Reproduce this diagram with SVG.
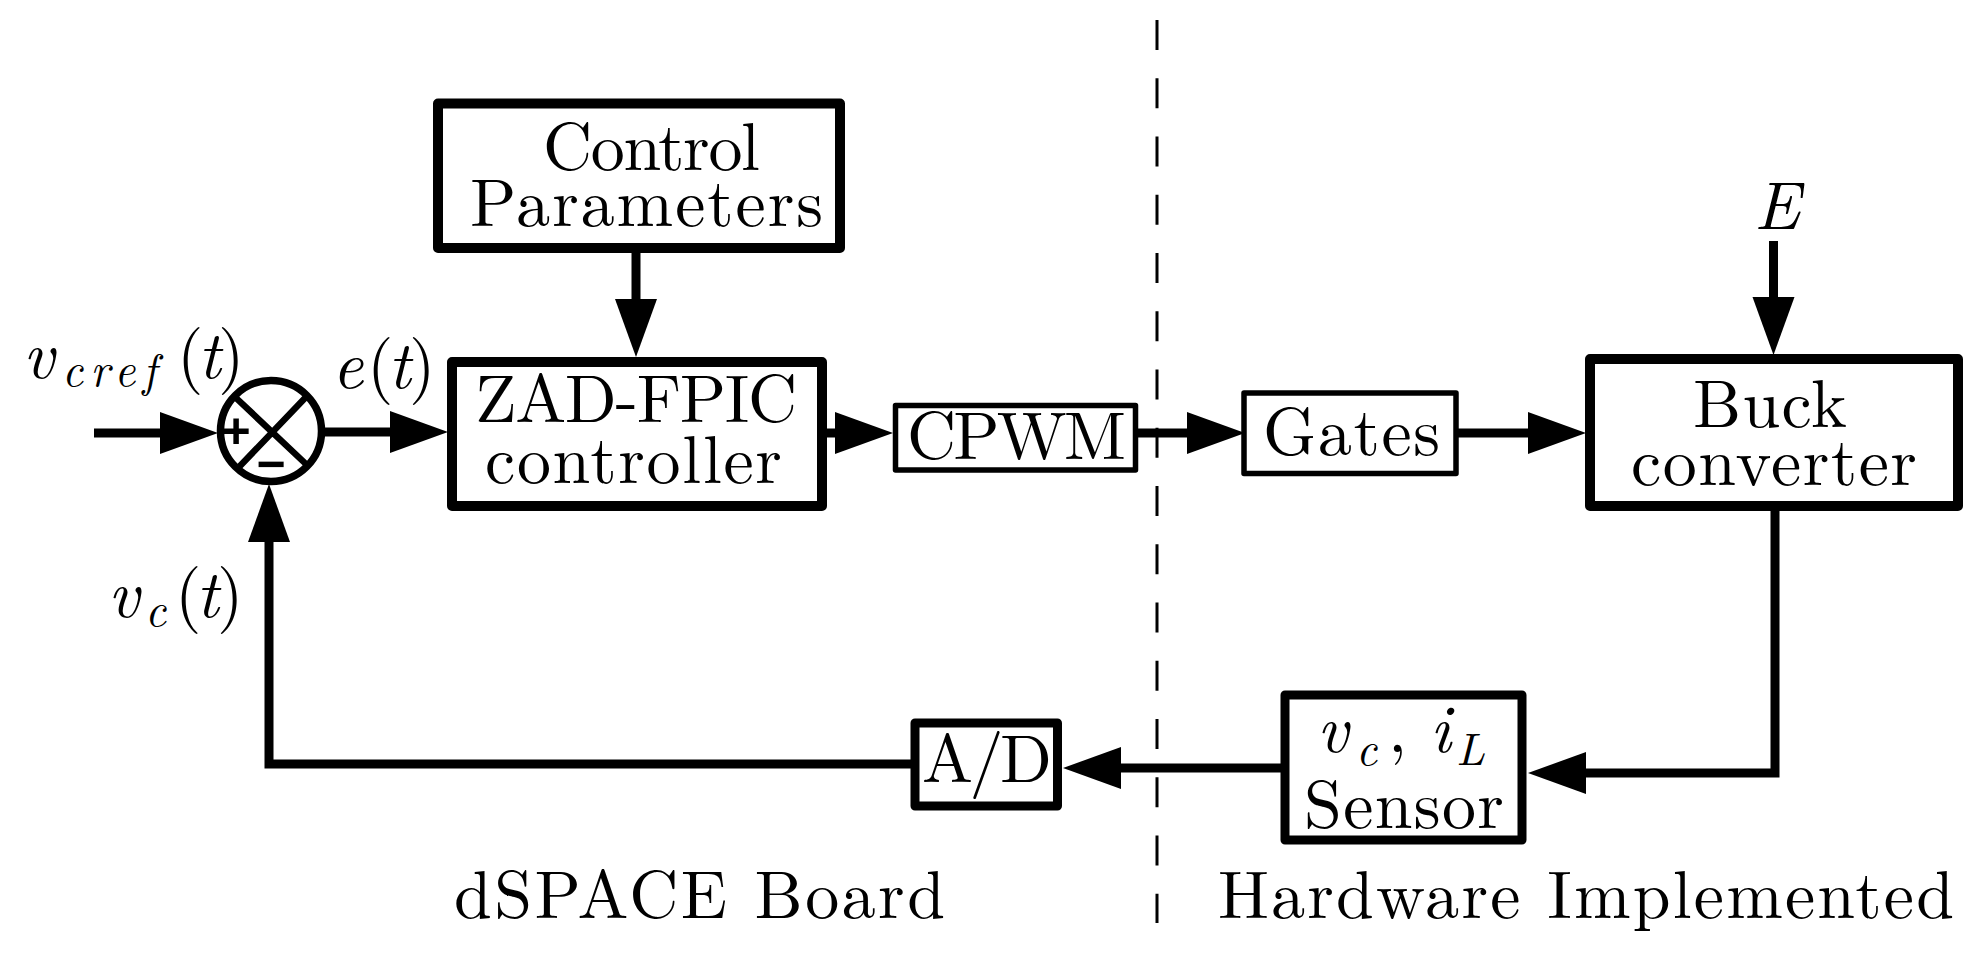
<svg xmlns="http://www.w3.org/2000/svg" width="1977" height="961" viewBox="0 0 1977 961">
<defs>
<marker id="ah" markerUnits="userSpaceOnUse" markerWidth="60" markerHeight="44" refX="0" refY="22" orient="auto" overflow="visible"><path d="M0 1L58 22L0 43Z" fill="#000"/></marker>
</defs>
<style>
text{font-family:"Latin Modern Roman","Liberation Serif","DejaVu Serif",serif;fill:#000;font-size:68px}
.i{font-style:italic}
.n{font-style:normal}
.s{font-size:46px}
.sg{font-family:"Liberation Sans",sans-serif;font-weight:bold;font-size:50px;text-anchor:middle}
.box{fill:#fff;stroke:#000;stroke-width:10;stroke-linejoin:round}
.thin{stroke-width:5.5}
.l{fill:none;stroke:#000;stroke-width:9}
</style>
<rect width="1977" height="961" fill="#fff"/>
<g id="connectors">
<path d="M1157 20V923" fill="none" stroke="#000" stroke-width="3" stroke-dasharray="30 28.25"/>
<path class="l" d="M636 250V299" marker-end="url(#ah)"/>
<path class="l" d="M94 433H160" stroke-width="10" marker-end="url(#ah)"/>
<path class="l" d="M322 432H390" marker-end="url(#ah)"/>
<path class="l" d="M824 433H835" marker-end="url(#ah)"/>
<path class="l" d="M1135 433H1187" marker-end="url(#ah)"/>
<path class="l" d="M1456 433H1528" marker-end="url(#ah)"/>
<path class="l" d="M1773.500 241V297" marker-end="url(#ah)"/>
<path class="l" d="M1775 508V773H1586" marker-end="url(#ah)"/>
<path class="l" d="M1283 768H1121" marker-end="url(#ah)"/>
<path class="l" d="M912 764H269V542" marker-end="url(#ah)"/>
</g>
<g id="sum">
<circle cx="271" cy="431" r="50.500" fill="#fff" stroke="#000" stroke-width="7.500"/>
<path d="M235 397L307 465M306 397L239 467" fill="none" stroke="#000" stroke-width="6.500"/>
<text class="sg" x="236" y="448">+</text>
<text class="sg" x="271" y="481">−</text>
</g>
<g id="control-parameters"><rect class="box" x="438" y="103.500" width="402" height="144.500"/><text x="543" y="170" textLength="217">Control</text><text x="470" y="226" textLength="353">Parameters</text></g>
<g id="zad-fpic-controller"><rect class="box" x="452" y="362" width="370" height="144"/><text x="475" y="422" textLength="322">ZAD-FPIC</text><text x="485" y="483" textLength="297">controller</text></g>
<g id="cpwm"><rect class="box thin" x="895.500" y="405.500" width="240" height="64.500"/><text x="907" y="459" textLength="219">CPWM</text></g>
<g id="gates"><rect class="box thin" x="1244" y="393" width="212" height="80.500"/><text x="1263" y="455" textLength="177">Gates</text></g>
<g id="buck-converter"><rect class="box" x="1590" y="359" width="368" height="147"/><text x="1693" y="427" textLength="154">Buck</text><text x="1631" y="485" textLength="286">converter</text></g>
<g id="sensor"><rect class="box" x="1285" y="695" width="237" height="145" style="stroke-width:9"/><text class="i" x="1317" y="752">v<tspan class="s" x="1356" y="765">c</tspan><tspan class="n" x="1388" y="752">,</tspan><tspan x="1430" y="752">i</tspan><tspan class="s" x="1456" y="765">L</tspan></text><text x="1304" y="828" textLength="200">Sensor</text></g>
<g id="a-d"><rect class="box" x="915" y="723" width="142.500" height="83" style="stroke-width:9"/><text x="922" y="782" textLength="130">A/D</text></g>
<g id="labels">
<text class="i" x="23" y="378">v<tspan class="s" x="62" y="386" letter-spacing="7">cref</tspan><tspan class="n" x="177" y="378">(</tspan><tspan x="198" y="378">t</tspan><tspan class="n" x="218" y="378">)</tspan></text>
<text class="i" x="332" y="388">e<tspan class="n" x="367">(</tspan><tspan x="388">t</tspan><tspan class="n" x="409">)</tspan></text>
<text class="i" x="108" y="617">v<tspan class="s" x="145" y="626">c</tspan><tspan class="n" x="175" y="617">(</tspan><tspan x="196" y="617">t</tspan><tspan class="n" x="217" y="617">)</tspan></text>
<text class="i" x="1754" y="229" textLength="46" lengthAdjust="spacingAndGlyphs">E</text>
<text x="454" y="918" textLength="491">dSPACE Board</text>
<text x="1218" y="918" textLength="736">Hardware Implemented</text>
</g>
</svg>
